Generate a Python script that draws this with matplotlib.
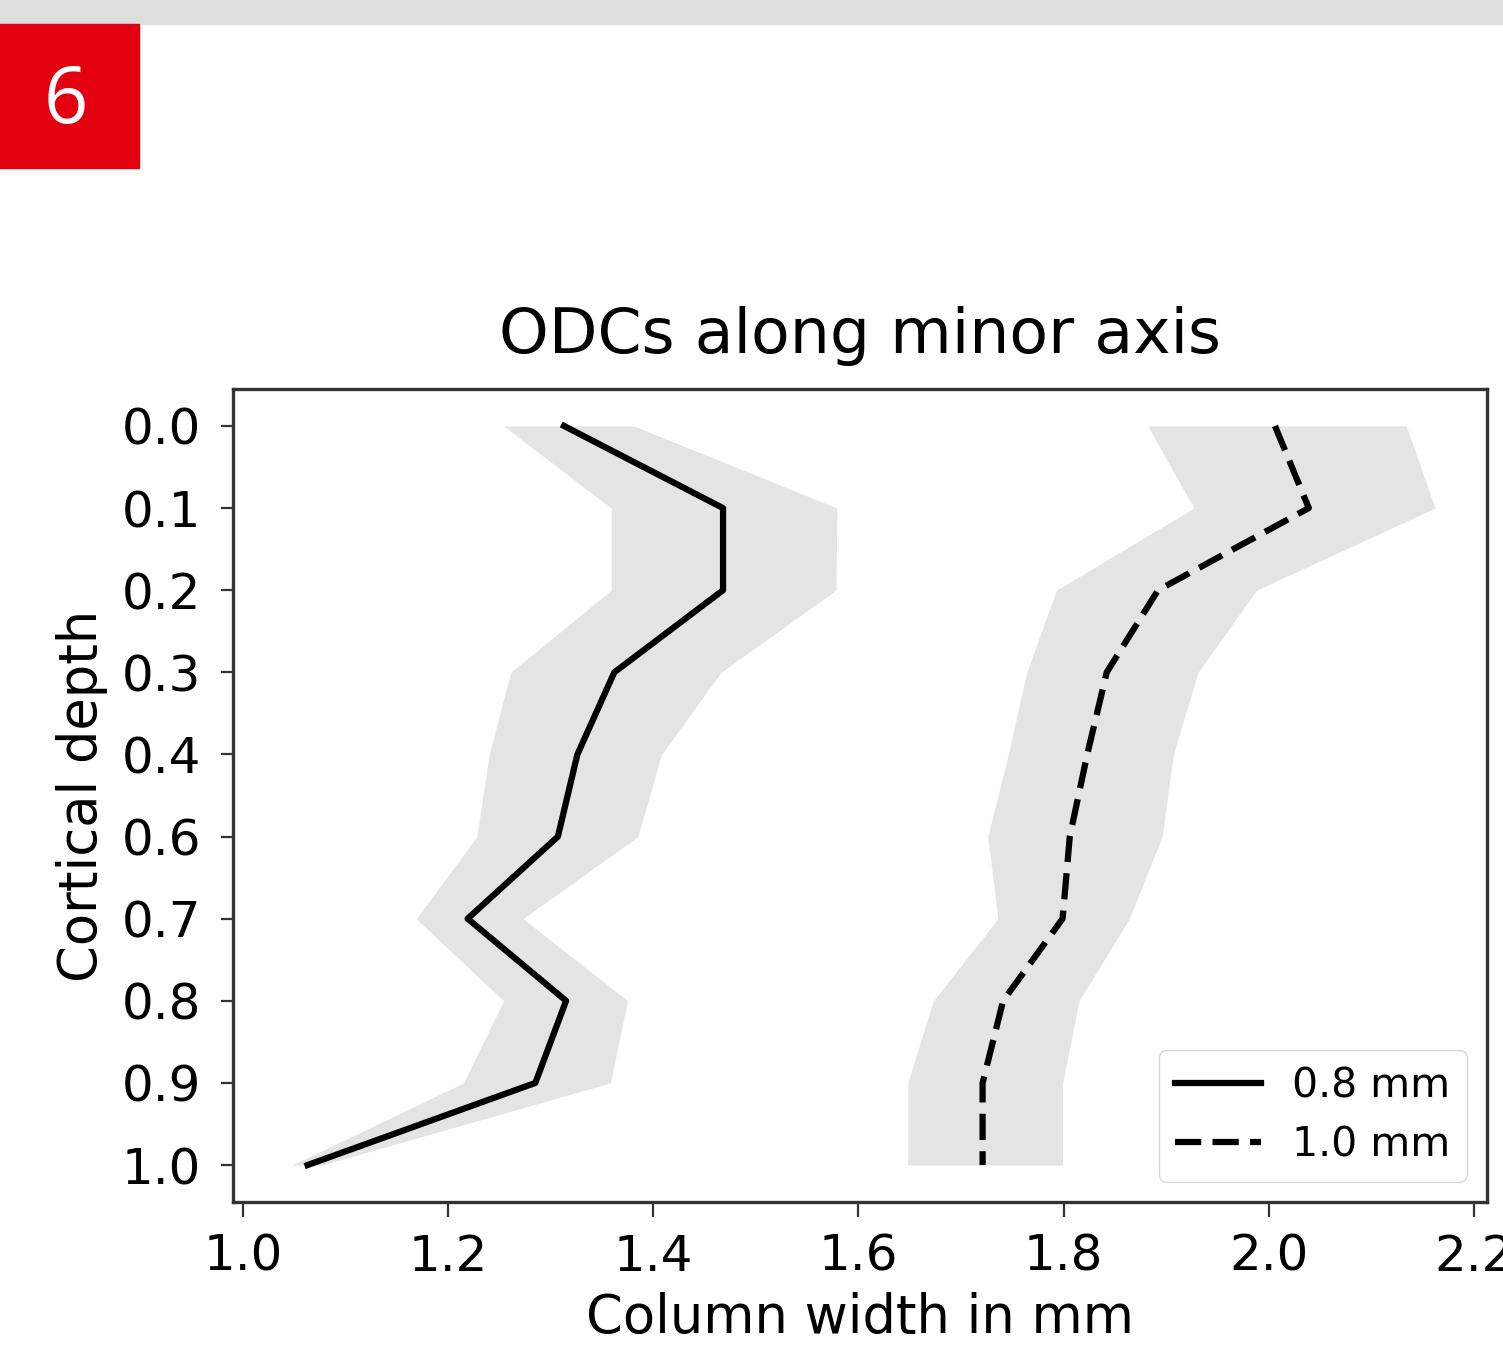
import numpy as np
import matplotlib
matplotlib.use("Agg")
import matplotlib.pyplot as plt
from matplotlib.patches import Rectangle

# Cortical depth labels (0.5 is not in the data)
depth_labels = ["0.0", "0.1", "0.2", "0.3", "0.4", "0.6", "0.7", "0.8", "0.9", "1.0"]

# 0.8 mm columns: mean and band
width_08 = [1.313, 1.468, 1.468, 1.362, 1.326, 1.307, 1.219, 1.315, 1.285, 1.063]
lower_08 = [1.254, 1.359, 1.359, 1.261, 1.240, 1.228, 1.169, 1.254, 1.215, 1.048]
upper_08 = [1.381, 1.579, 1.578, 1.466, 1.408, 1.385, 1.273, 1.375, 1.358, 1.077]

# 1.0 mm columns: mean and band
width_10 = [2.006, 2.039, 1.892, 1.842, 1.823, 1.806, 1.799, 1.741, 1.721, 1.721]
lower_10 = [1.882, 1.927, 1.793, 1.764, 1.746, 1.726, 1.736, 1.673, 1.648, 1.648]
upper_10 = [2.134, 2.162, 1.988, 1.931, 1.907, 1.896, 1.864, 1.815, 1.799, 1.799]

W, H = 1503, 1348
fig = plt.figure(figsize=(W / 100, H / 100), dpi=100)

# page decoration: grey strip and red number box
fig.patches.append(Rectangle((0, 1 - 24 / H), 1, 24 / H, transform=fig.transFigure,
                             color="#dedede", zorder=0))
fig.patches.append(Rectangle((0, 1 - 168 / H), 139 / W, 144 / H, transform=fig.transFigure,
                             color="#e3000f", zorder=1))
fig.text(66 / W, 1 - 102 / H, "6", color="white", fontsize=56, family="Open Sans",
         ha="center", va="center")

ax = fig.add_axes([233 / W, 1 - 1202 / H, (1487 - 233) / W, (1202 - 389) / H])

y = np.arange(len(depth_labels))
fill_col = "#e4e4e4"
ax.fill_betweenx(y, lower_08, upper_08, color=fill_col, lw=0)
ax.fill_betweenx(y, lower_10, upper_10, color=fill_col, lw=0)
ax.plot(width_08, y, color="black", lw=4.5, label="0.8 mm")
ax.plot(width_10, y, color="black", lw=4.5, ls="--", dashes=(4.2, 1.8), label="1.0 mm")

ax.set_yticks(y)
ax.set_yticklabels(depth_labels)
ax.set_ylim(len(depth_labels) - 1 + 0.45, -0.45)
ax.set_xlim(0.9903, 2.2127)
ax.set_xticks([1.0, 1.2, 1.4, 1.6, 1.8, 2.0, 2.2])

for s in ax.spines.values():
    s.set_linewidth(2.4)
    s.set_color("#333333")
ax.tick_params(axis="both", labelsize=36, width=1.6, color="#333333")
ax.tick_params(axis="y", length=9, pad=14)
ax.tick_params(axis="x", length=11, pad=11)

ax.set_title("ODCs along minor axis", fontsize=45.5, pad=26)
ax.set_xlabel("Column width in mm", fontsize=38, labelpad=8)
ax.set_ylabel("Cortical depth", fontsize=38, labelpad=10)

ax.legend(loc="lower right", fontsize=29.5, handlelength=2.1, borderaxespad=0.5,
          borderpad=0.4, labelspacing=0.45, handletextpad=0.75)

fig.savefig("out.png", dpi=100)
